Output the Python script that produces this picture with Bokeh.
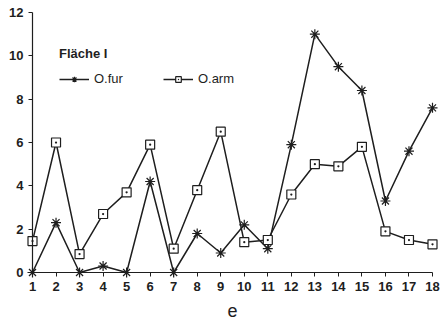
from bokeh.plotting import figure
from bokeh.models import Range1d, Legend, LegendItem, FixedTicker
from bokeh.embed import file_html
from bokeh.resources import INLINE

# Samples along the transect and counts per species
samples = list(range(1, 19))
o_fur = [0, 2.3, 0, 0.3, 0, 4.2, 0, 1.8, 0.9, 2.2, 1.1, 5.9, 11.0, 9.5, 8.4, 3.3, 5.6, 7.6]
o_arm = [1.45, 6.0, 0.85, 2.7, 3.7, 5.9, 1.1, 3.8, 6.5, 1.4, 1.5, 3.6, 5.0, 4.9, 5.8, 1.9, 1.5, 1.3]
y_ticks = [0, 2, 4, 6, 8, 10, 12]

INK = "#1e1e1e"
FONT = "Liberation Sans"

# the frame fills the whole canvas; the axes sit at x = 1 and y = 0 inside it
p = figure(width=442, height=333, output_backend="svg", toolbar_location=None,
           x_range=Range1d(-0.36, 18.425), y_range=Range1d(-2.815, 12.554),
           min_border=0, min_border_left=0, min_border_right=0,
           min_border_top=0, min_border_bottom=0)
p.outline_line_color = None
p.grid.visible = False
p.background_fill_color = "white"
p.border_fill_color = "white"

p.xaxis.fixed_location = 0
p.yaxis.fixed_location = 1
p.xaxis.bounds = (1, 18)
p.yaxis.bounds = (0, 12)
p.xaxis.ticker = FixedTicker(ticks=samples)
p.yaxis.ticker = FixedTicker(ticks=y_ticks)
for ax in (p.xaxis, p.yaxis):
    ax.axis_line_color = INK
    ax.axis_line_width = 1.2
    ax.major_tick_line_color = INK
    ax.major_tick_in = 0
    ax.major_tick_out = 4
    ax.minor_tick_line_color = None
    ax.major_label_text_font = FONT
    ax.major_label_text_font_style = "bold"
    ax.major_label_text_font_size = "13px"
    ax.major_label_text_color = INK
p.xaxis.axis_label = "e"
p.xaxis.axis_label_text_font = FONT
p.xaxis.axis_label_text_font_style = "normal"
p.xaxis.axis_label_text_font_size = "18px"
p.xaxis.axis_label_text_color = INK
p.xaxis.axis_label_standoff = 10

l1 = p.line(samples, o_fur, line_color=INK, line_width=1.5)
m1 = p.scatter(samples, o_fur, marker="asterisk", size=10, line_color=INK, line_width=1.2)
l2 = p.line(samples, o_arm, line_color=INK, line_width=1.5)
m2 = p.scatter(samples, o_arm, marker="square_dot", size=9, line_color=INK,
               fill_color="white", line_width=1.2)

legend = Legend(items=[LegendItem(label="O.fur", renderers=[l1, m1]),
                       LegendItem(label="O.arm", renderers=[l2, m2])],
                orientation="horizontal", location=(55, 243),
                title="Fläche I", title_text_font=FONT, title_text_font_style="bold",
                title_text_font_size="13px", title_text_color=INK, title_standoff=10,
                label_text_font=FONT, label_text_font_size="13px", label_text_color=INK,
                glyph_width=30, glyph_height=14, spacing=40, padding=4, margin=0,
                background_fill_alpha=0, border_line_alpha=0)
p.add_layout(legend, "center")

html = file_html(p, INLINE)
open("out.html", "w").write(html)
